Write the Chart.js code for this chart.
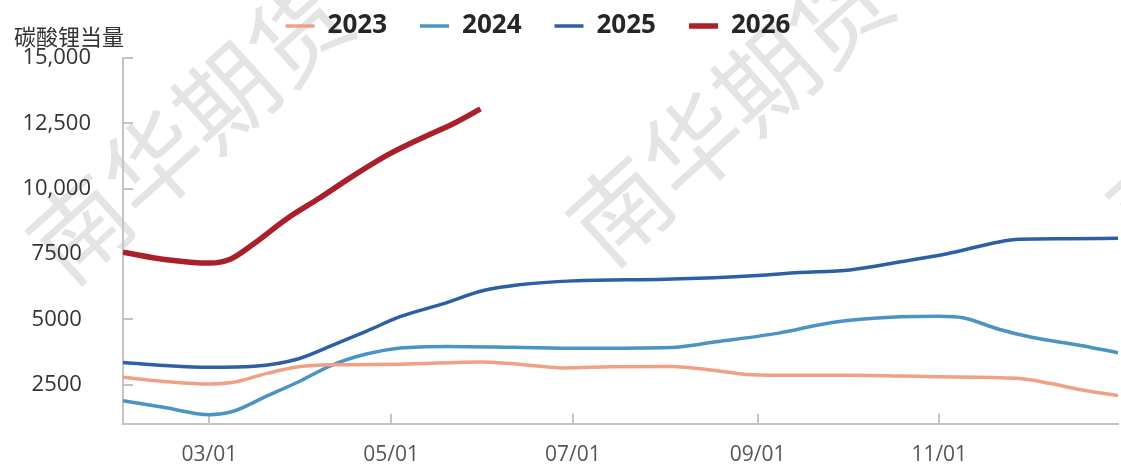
<!DOCTYPE html>
<html>
<head>
<meta charset="utf-8">
<script src="https://cdn.jsdelivr.net/npm/chart.js@4.4.0/dist/chart.umd.min.js"></script>
<style>
  html, body { margin: 0; padding: 0; background: #fff; }
  #wrap { width: 1121px; height: 469px; }
</style>
</head>
<body>
<div id="wrap"><canvas id="lithiumChart"></canvas></div>
<script>
// day of year (non-leap) for each reading
const days2023 = [31, 45, 60, 68, 79, 90, 101, 124, 151, 162, 179, 195, 215, 229, 240, 251, 275, 305, 331, 342, 353, 365];
const vals2023 = [2780, 2620, 2520, 2590, 2920, 3180, 3260, 3280, 3370, 3300, 3140, 3180, 3190, 3050, 2890, 2860, 2860, 2800, 2740, 2550, 2290, 2080];

const days2024 = [31, 45, 60, 68, 79, 90, 101, 113, 124, 140, 162, 184, 215, 229, 251, 269, 292, 305, 313, 325, 336, 353, 365];
const vals2024 = [1880, 1620, 1350, 1480, 2050, 2610, 3240, 3680, 3900, 3960, 3930, 3890, 3920, 4120, 4470, 4880, 5100, 5120, 5060, 4620, 4310, 3990, 3720];

const days2025 = [31, 45, 60, 75, 90, 101, 113, 124, 138, 152, 164, 182, 213, 224, 244, 258, 275, 292, 308, 325, 332, 348, 365];
const vals2025 = [3350, 3230, 3160, 3200, 3490, 3990, 4560, 5100, 5580, 6100, 6320, 6470, 6530, 6570, 6680, 6790, 6890, 7200, 7520, 7960, 8060, 8080, 8100];

const days2026 = [31, 45, 60, 67, 75, 86, 97, 108, 120, 131, 142, 151];
const vals2026 = [7570, 7290, 7150, 7300, 7900, 8850, 9640, 10470, 11300, 11920, 12490, 13050];

const xTickDays = [60, 121, 182, 244, 305];
const xTickLabels = ['03/01', '05/01', '07/01', '09/01', '11/01'];
const yTickValues = [2500, 5000, 7500, 10000, 12500, 15000];
const yTickLabels = ['2500', '5000', '7500', '10,000', '12,500', '15,000'];

const toPoints = (d, v) => d.map((x, i) => ({ x: x, y: v[i] }));

const watermark = {
  id: 'watermark',
  beforeDraw(chart) {
    const ctx = chart.ctx;
    ctx.save();
    ctx.fillStyle = '#e4e4e4';
    ctx.font = '98px "Noto Sans CJK SC"';
    ctx.textBaseline = 'middle';
    ctx.textAlign = 'left';
    [[80, 228], [620, 210], [1160, 192]].forEach(([cx, cy]) => {
      ctx.save();
      ctx.translate(cx, cy);
      ctx.rotate(-42 * Math.PI / 180);
      ctx.fillText('南华期货', -49, 0);
      ctx.restore();
    });
    ctx.restore();
  }
};

const innerTicks = {
  id: 'innerTicks',
  beforeDatasetsDraw(chart) {
    const { ctx, chartArea, scales: { x, y } } = chart;
    ctx.save();
    ctx.strokeStyle = '#c4c4c4';
    ctx.lineWidth = 2;
    ctx.beginPath();
    x.ticks.forEach(t => {
      const px = Math.round(x.getPixelForValue(t.value));
      ctx.moveTo(px, chartArea.bottom);
      ctx.lineTo(px, chartArea.bottom - 10);
    });
    y.ticks.forEach(t => {
      const py = Math.round(y.getPixelForValue(t.value));
      ctx.moveTo(chartArea.left, py);
      ctx.lineTo(chartArea.left + 10, py);
    });
    ctx.stroke();
    ctx.restore();
  }
};

const unitLabel = {
  id: 'unitLabel',
  afterLayout(chart) {
    // nudge legend up/left to where the original sits
    const lg = chart.legend;
    lg.top -= 24; lg.bottom -= 24;
    lg.left -= 21; lg.right -= 21;
  },
  afterDraw(chart) {
    const ctx = chart.ctx;
    ctx.save();
    ctx.fillStyle = '#333';
    ctx.font = '22px "Noto Sans CJK SC"';
    ctx.textBaseline = 'middle';
    ctx.textAlign = 'left';
    ctx.fillText('碳酸锂当量', 14, 37);
    ctx.restore();
  }
};

const ctx = document.getElementById('lithiumChart').getContext('2d');
new Chart(ctx, {
  type: 'line',
  data: {
    datasets: [
      { label: '2023', data: toPoints(days2023, vals2023), borderColor: '#f0a083', borderWidth: 3.5 },
      { label: '2024', data: toPoints(days2024, vals2024), borderColor: '#4a93c3', borderWidth: 3.5 },
      { label: '2025', data: toPoints(days2025, vals2025), borderColor: '#2d5fa5', borderWidth: 3.5 },
      { label: '2026', data: toPoints(days2026, vals2026), borderColor: '#aa1f2a', borderWidth: 5.5 }
    ]
  },
  options: {
    responsive: true,
    maintainAspectRatio: false,
    animation: false,
    layout: { padding: { left: 0, right: 3, top: 4, bottom: 0 } },
    elements: {
      point: { radius: 0, hoverRadius: 0 },
      line: { cubicInterpolationMode: 'monotone', fill: false }
    },
    scales: {
      x: {
        type: 'linear',
        min: 31,
        max: 365,
        afterBuildTicks: s => { s.ticks = xTickDays.map(v => ({ value: v })); },
        afterFit: s => { s.height = 38; },
        grid: { drawOnChartArea: false, drawTicks: false },
        border: { color: '#c4c4c4', width: 2 },
        ticks: {
          padding: 19,
          color: '#555',
          font: { family: 'Open Sans', size: 21 },
          callback: v => xTickLabels[xTickDays.indexOf(v)]
        }
      },
      y: {
        min: 1000,
        max: 15000,
        afterBuildTicks: s => { s.ticks = yTickValues.map(v => ({ value: v })); },
        afterFit: s => { s.width = 123; },
        grid: { drawOnChartArea: false, drawTicks: false },
        border: { color: '#c4c4c4', width: 2 },
        ticks: {
          padding: 32,
          crossAlign: 'center',
          color: '#333',
          font: { family: 'Open Sans', size: 22 },
          callback: v => yTickLabels[yTickValues.indexOf(v)]
        }
      }
    },
    plugins: {
      tooltip: { enabled: false },
      legend: {
        position: 'top',
        maxHeight: 54,
        labels: {
          usePointStyle: true,
          pointStyle: 'line',
          pointStyleWidth: 29,
          padding: 33,
          color: '#262626',
          font: { family: 'Open Sans', size: 26, weight: 'bold' }
        }
      }
    }
  },
  plugins: [watermark, innerTicks, unitLabel]
});
</script>
</body>
</html>
